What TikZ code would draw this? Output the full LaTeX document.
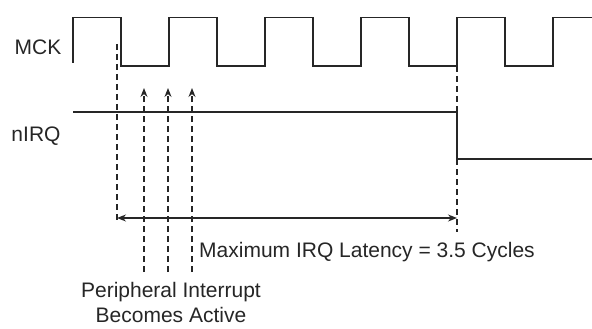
\documentclass[tikz,border=0pt]{standalone}
\usepackage{fontspec}
\setmainfont{Liberation Sans}
\usetikzlibrary{arrows.meta}

\begin{document}
\begin{tikzpicture}[x=1pt, y=-1pt, >={Stealth[length=9pt,width=7pt]},
          signal/.style={line width=1.9pt, color=black!85},
          guide/.style={line width=1.2pt, dash pattern=on 6pt off 4pt, color=black!85},
          label/.style={font=\fontsize{21}{25}\selectfont, text=black!85, inner sep=0pt}]

          \useasboundingbox (0,0) rectangle (592,329);

          % signal names
          \node[label] (mck) at (38,47) {MCK};
          \node[label] (nirq) at (36,136) {nIRQ};

          % clock
          \draw[signal] (73,63) -- (73,17.5)
            \foreach \k in {0,...,4} {-- ++(48,0) -- ++(0,48.5) -- ++(48,0) -- ++(0,-48.5)} -- (592,17.5);

          % interrupt line
          \coordinate (irqstart) at (73,112);
          \coordinate (irqfall) at (457,112);
          \coordinate (irqlow) at (457,159);
          \coordinate (irqend) at (592,159);
          \draw[signal] (irqstart) -- (irqfall) -- (irqlow) -- (irqend);

          % latency guides
          \coordinate (gl1) at (117,44);
          \coordinate (gl2) at (117,222);
          \coordinate (gr1) at (457,66);
          \coordinate (gr2) at (457,232);
          \draw[guide] (gl1) -- (gl2);
          \draw[guide] (gr1) -- (irqfall);
          \draw[guide] (irqlow) -- (gr2);
          \coordinate (la) at (117,218);
          \coordinate (lb) at (457,218);
          \draw[signal, line width=1.4pt, <->] (la) -- (lb);
          \node[label, anchor=base west] (lat) at (199,257) {Maximum IRQ Latency = 3.5 Cycles};

          % peripheral interrupt edges
          \foreach \x/\n in {144/a, 168/b, 192/c} {
            \coordinate (p\n1) at (\x,272);
            \coordinate (p\n2) at (\x,88);
            \draw[guide, ->] (p\n1) -- (p\n2);
          }
          \node[label, align=center, anchor=base] (per) at (171,322)
            {Peripheral Interrupt\\Becomes Active};
        \end{tikzpicture}
\end{document}
